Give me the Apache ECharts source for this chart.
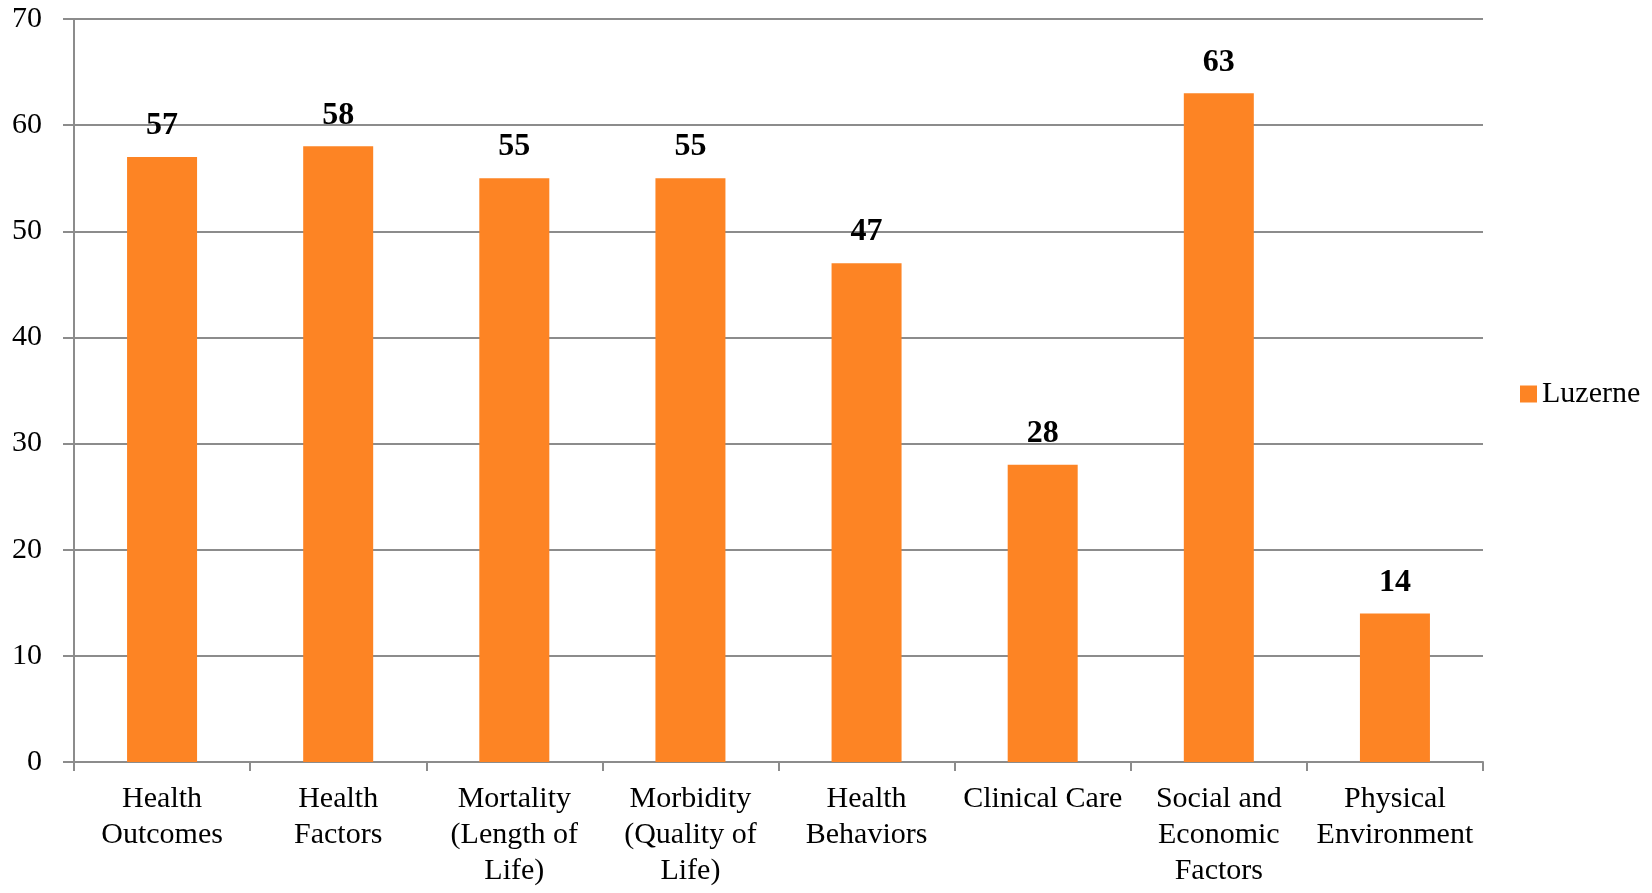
<!DOCTYPE html>
<html><head><meta charset="utf-8">
<script src="https://cdn.jsdelivr.net/npm/echarts@6/dist/echarts.min.js"></script>
<style>html,body{margin:0;padding:0;background:#fff}#c{width:1652px;height:893px}</style>
</head><body><div id="c"></div>
<script>
var categories = ['Health\nOutcomes','Health\nFactors','Mortality\n(Length of\nLife)','Morbidity\n(Quality of\nLife)','Health\nBehaviors','Clinical Care','Social and\nEconomic\nFactors','Physical\nEnvironment'];
var luzerne = [57,58,55,55,47,28,63,14];
var seriesName = 'Luzerne';
var FONT = '"Liberation Serif", "DejaVu Serif", serif';
var chart = echarts.init(document.getElementById('c'));
chart.setOption({
  animation:false,
  textStyle:{fontFamily:FONT},
  grid:{left:74,top:19,right:169,bottom:131,containLabel:false},
  legend:{orient:'vertical',left:1515,top:374,itemWidth:17,itemHeight:17,itemGap:10,
    textStyle:{fontFamily:FONT,fontSize:30,color:'#000'},data:[seriesName],icon:'rect'},
  xAxis:{type:'category',data:categories,
    axisLine:{lineStyle:{color:'#8c8c8c',width:2}},
    axisTick:{show:true,length:9,alignWithLabel:false,lineStyle:{color:'#8c8c8c',width:2}},
    axisLabel:{interval:0,fontFamily:FONT,fontSize:30,color:'#000',lineHeight:36,margin:19}},
  yAxis:{type:'value',min:0,max:70,interval:10,
    axisLine:{show:true,lineStyle:{color:'#8c8c8c',width:2}},
    axisTick:{show:true,length:11,lineStyle:{color:'#8c8c8c',width:2}},
    splitLine:{lineStyle:{color:'#8c8c8c',width:2}},
    axisLabel:{fontFamily:FONT,fontSize:30,color:'#000',margin:32}},
  series:[{name:seriesName,type:'bar',data:luzerne,barWidth:70,
    itemStyle:{color:'#FD8424'},
    label:{show:true,position:'top',distance:15,fontFamily:FONT,fontSize:32,fontWeight:'bold',color:'#000'}}]
});
</script></body></html>
